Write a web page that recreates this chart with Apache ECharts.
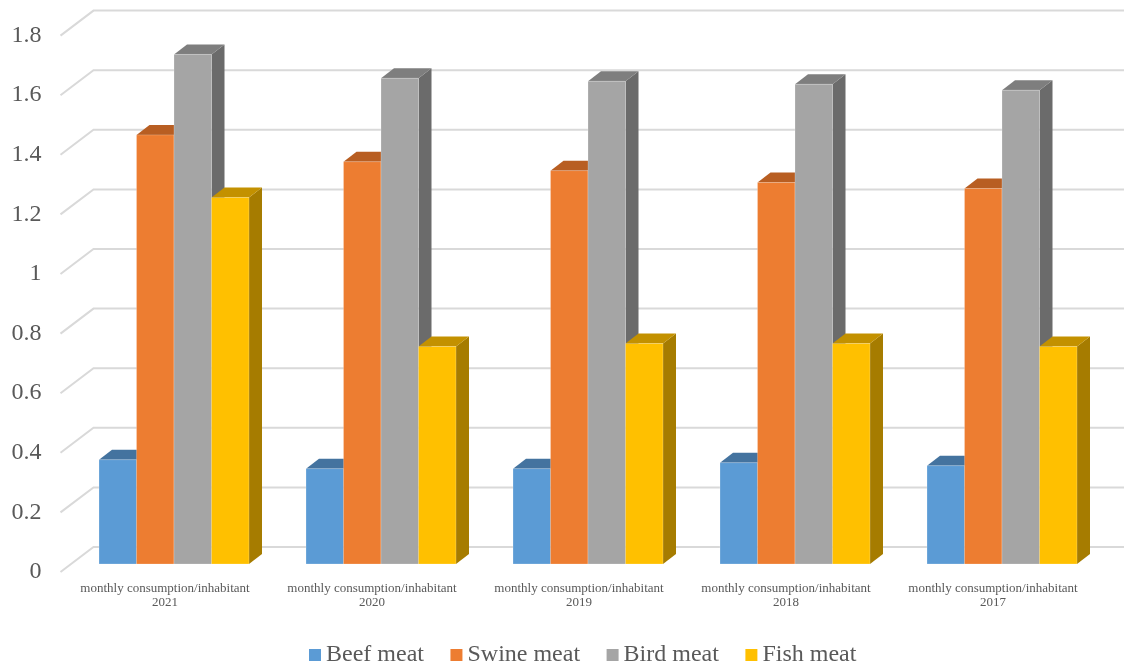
<!DOCTYPE html>
<html>
<head>
<meta charset="utf-8">
<script src="https://cdn.jsdelivr.net/npm/echarts@6/dist/echarts.min.js"></script>
<style>
  html, body { margin: 0; padding: 0; background: #ffffff; }
  #chart { width: 1124px; height: 665px; }
</style>
</head>
<body>
<div id="chart"></div>
<script>
// Monthly meat consumption per inhabitant, by year
const years = ['2021', '2020', '2019', '2018', '2017'];
const categories = years.map(y => 'monthly consumption/inhabitant\n' + y);
const beef  = [0.35, 0.32, 0.32, 0.34, 0.33];
const swine = [1.44, 1.35, 1.32, 1.28, 1.26];
const bird  = [1.71, 1.63, 1.62, 1.61, 1.59];
const fish  = [1.23, 0.73, 0.74, 0.74, 0.73];
const yTicks = [0, 0.2, 0.4, 0.6, 0.8, 1, 1.2, 1.4, 1.6, 1.8];

// Oblique 3D projection: floor depth, bar front-plane offset and bar depth
const WALL_DX = 33, WALL_DY = -25;
const FRONT_DX = 9, FRONT_DY = -8;
const DEPTH_DX = 13, DEPTH_DY = -10;
const BAR_RATIO = 37.5 / 207;

const FONT = '"Liberation Serif", "Times New Roman", serif';
const TEXT = '#595959';

const meats = [
  { name: 'Beef meat',  data: beef,  front: '#5B9BD5', top: '#44739F', side: '#3F6B94' },
  { name: 'Swine meat', data: swine, front: '#ED7D31', top: '#B85E22', side: '#A9561F' },
  { name: 'Bird meat',  data: bird,  front: '#A5A5A5', top: '#7E7E7E', side: '#6B6B6B' },
  { name: 'Fish meat',  data: fish,  front: '#FFC000', top: '#C39100', side: '#A67C00' }
];

function boxRenderer(k, faces) {
  return function (params, api) {
    const idx = api.value(0);
    const v = api.value(1);
    const base = api.coord([idx, 0]);
    const top = api.coord([idx, v]);
    const band = api.size([1, 0])[0];
    const barW = band * BAR_RATIO;
    const x0 = base[0] - barW * 2 + k * barW + FRONT_DX;
    const x1 = x0 + barW;
    const yb = base[1] + FRONT_DY;
    const yt = top[1] + FRONT_DY;
    const dx = DEPTH_DX, dy = DEPTH_DY;
    return {
      type: 'group',
      children: [
        { type: 'polygon',
          shape: { points: [[x1, yb], [x1 + dx, yb + dy], [x1 + dx, yt + dy], [x1, yt]] },
          style: { fill: faces.side } },
        { type: 'polygon',
          shape: { points: [[x0, yt], [x0 + dx, yt + dy], [x1 + dx, yt + dy], [x1, yt]] },
          style: { fill: faces.top } },
        { type: 'rect',
          shape: { x: x0, y: yt, width: barW, height: yb - yt },
          style: { fill: faces.front, stroke: 'rgba(255,255,255,0.22)', lineWidth: 1 } }
      ]
    };
  };
}

// Gridlines: a short diagonal on the floor side, then along the back wall
function gridRenderer(params, api) {
  const cs = params.coordSys;
  const y = api.coord([0, api.value(1)])[1];
  return {
    type: 'polyline',
    shape: { points: [[cs.x - 1, y], [cs.x - 1 + WALL_DX, y + WALL_DY], [1130, y + WALL_DY]] },
    style: { stroke: '#D9D9D9', lineWidth: 2, fill: null }
  };
}

const series = [{
  type: 'custom',
  name: 'grid',
  silent: true,
  z: 1,
  renderItem: gridRenderer,
  data: yTicks.map(v => [0, v])
}];

meats.forEach((m, k) => {
  series.push({
    type: 'custom',
    name: m.name,
    z: 2 + k,
    itemStyle: { color: m.front },
    renderItem: boxRenderer(k, m),
    encode: { x: 0, y: 1 },
    data: m.data.map((v, i) => [i, v])
  });
});

const chart = echarts.init(document.getElementById('chart'));
chart.setOption({
  animation: false,
  backgroundColor: '#ffffff',
  grid: { left: 61.5, right: 27.5, top: 35.6, bottom: 93, containLabel: false },
  xAxis: {
    type: 'category',
    data: categories,
    axisLine: { show: false },
    axisTick: { show: false },
    splitLine: { show: false },
    axisLabel: {
      interval: 0,
      margin: 10,
      color: TEXT,
      fontFamily: FONT,
      fontSize: 13,
      lineHeight: 14
    }
  },
  yAxis: {
    type: 'value',
    min: 0,
    max: 1.8,
    interval: 0.2,
    axisLine: { show: false },
    axisTick: { show: false },
    splitLine: { show: false },
    axisLabel: {
      margin: 20,
      color: TEXT,
      fontFamily: FONT,
      fontSize: 24
    }
  },
  legend: {
    data: meats.map(m => m.name),
    left: 309,
    top: 643,
    padding: 0,
    icon: 'rect',
    itemWidth: 12,
    itemHeight: 12,
    itemGap: 26.5,
    textStyle: { color: TEXT, fontFamily: FONT, fontSize: 24, lineHeight: 24 }
  },
  series: series
});
</script>
</body>
</html>
